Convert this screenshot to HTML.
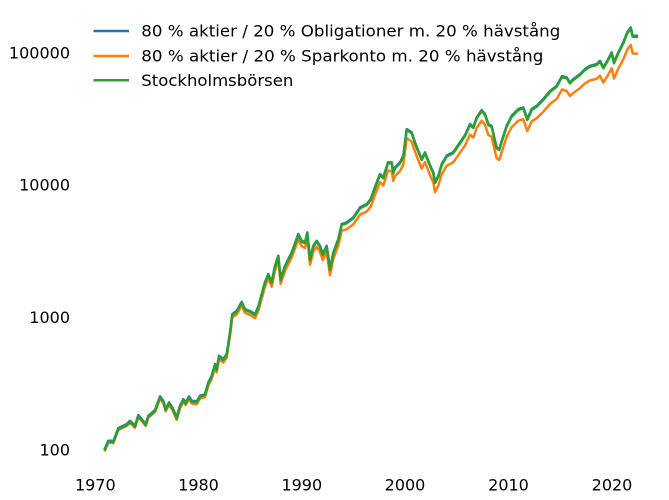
<!DOCTYPE html>
<html>
<head>
<meta charset="utf-8">
<style>
html,body{margin:0;padding:0;background:#fff;}
svg{display:block;}
text{font-family:"DejaVu Sans","Liberation Sans",sans-serif;font-size:16px;fill:#000;}
</style>
</head>
<body>
<svg width="669" height="500" viewBox="0 0 669 500" xmlns="http://www.w3.org/2000/svg">
<rect width="669" height="500" fill="#fff"/>

<!-- y tick labels -->
<text x="70" y="58.3" text-anchor="end">100000</text>
<text x="70" y="190.7" text-anchor="end">10000</text>
<text x="70" y="323.2" text-anchor="end">1000</text>
<text x="70" y="455.5" text-anchor="end">100</text>

<!-- x tick labels -->
<text x="95.3" y="490.7" text-anchor="middle">1970</text>
<text x="198.5" y="490.7" text-anchor="middle">1980</text>
<text x="301.8" y="490.7" text-anchor="middle">1990</text>
<text x="405" y="490.7" text-anchor="middle">2000</text>
<text x="508.5" y="490.7" text-anchor="middle">2010</text>
<text x="612" y="490.7" text-anchor="middle">2020</text>

<g fill="none" stroke-width="2.5" stroke-linejoin="round" stroke-linecap="square">
<!-- blue -->
<polyline stroke="#1f77b4" transform="translate(0,-0.9)" points="105,449.3 108.3,441.7 111.7,441.7 113.3,442.3 118.3,429 126.7,425 130,421.7 135,426.7 138.3,416 141.7,420 145.7,425 148.3,416.7 155,411 160,397.3 163.3,401.7 165.7,410 169,403.3 172.3,408.3 176.7,418.3 180,406.7 183.3,400 185.7,403.3 189,397.3 191.7,401.7 196.7,402.3 200,396.7 205,395 208.3,383.3 211.7,376.7 215,365 216.7,370 219,356.7 223.3,360 226.7,355 230,333.3 232.3,315 236.7,311.7 241.7,302.7 245,310 250,312 255,315 258.5,307 261.7,295 265,283 268.3,275 271.7,283 275,266.7 278.3,256.7 280.7,280 285,266.7 291.7,253.3 298.3,235 301.7,241.7 305,243.3 307.3,233.3 310,260 313.3,246.7 316.7,241.7 320,246.7 322.7,255 326.7,246.7 330,270 333.3,253.3 338.3,240 341.7,225 346.7,223.3 353.3,218.3 360,208.3 366.7,205 370.7,200 376.7,183.3 380,175 383.3,178.3 388,163.3 391.7,163.3 393.3,173.3 395,168.3 400,163.3 403.3,156.7 406.7,130 411.7,133.3 415,143.3 418.3,151.7 421.7,160 425,153.3 428.3,161.7 431.7,170 433.3,173.3 435,183 438.3,176.7 441.7,165 446.7,156.5 453.3,153 460,143.3 465,136 470,125 473.3,128 476.7,118.3 481.7,111 485,115 488.3,125 491.7,127 495,141.7 496.7,148.3 499.3,150 501.7,142 506.7,126.5 511.7,116.7 518.3,110 523.3,108.3 527.3,120 531.7,110 536.7,106.7 543.3,100 550,92 556.7,86.7 562,77 566.7,78.3 570,83.3 573.3,80 580,75 585,70 590,66.7 596.7,65 600,61.7 603.3,68.3 608.3,60 611.7,53.3 614,63.3 618.3,53.3 623.3,43.3 627.3,33.3 630.7,28.3 632.7,36.7 636.7,36.7"/>
<!-- orange -->
<polyline stroke="#ff7f0e" points="105,450.3 108.3,442.7 111.7,442.7 113.3,443.3 118.3,430 126.7,426 130,422.7 135,427.7 138.3,417 141.7,421 145.7,426 148.3,417.7 155,412.1 160,398.5 163.3,403 165.7,411.3 169,404.7 172.3,409.7 176.7,419.8 180,408.3 183.3,401.7 185.7,405 189,399.1 191.7,403.5 196.7,404.2 200,398.7 205,397.1 208.3,385.5 211.7,378.9 215,367.3 216.7,372.3 219,359.1 223.3,362.5 226.7,357.5 230,335.9 232.3,317.6 236.7,314.4 241.7,305.5 245,312.9 250,315 255,318.2 258.5,310.3 261.7,298.4 265,286.5 268.3,278.5 271.7,286.7 275,270.5 278.3,260.6 280.7,283.9 285,270.8 291.7,257.6 298.3,239.5 301.7,246.3 305,248 307.3,238 310,264.8 313.3,251.6 316.7,246.7 320,251.8 322.7,260.2 326.7,252 330,275.4 333.3,258.8 338.3,245.6 341.7,230.7 346.7,229.2 353.3,224.4 360,214.7 366.7,211.6 370.7,206.8 376.7,190.3 380,182.1 383.3,185.5 388,170.7 391.7,170.9 393.3,180.9 395,176 400,171.2 403.3,164.7 406.7,138.1 411.7,141.6 415,151.7 418.3,160.2 421.7,168.6 425,162.1 428.3,170.6 431.7,179 433.3,182.3 435,192.1 438.3,185.8 441.7,174.2 446.7,165.7 453.3,162.3 460,152.7 465,145.5 470,134.6 473.3,137.6 476.7,128 481.7,120.7 485,124.8 488.3,134.8 491.7,136.9 495,151.6 496.7,158.3 499.3,160 501.7,152.1 506.7,136.8 511.7,127.2 518.3,120.7 523.3,119.2 527.3,131.1 531.7,121.3 536.7,118.2 543.3,111.7 550,104 556.7,99 562,89.5 566.7,91 570,96.1 573.3,92.9 580,88.2 585,83.4 590,80.3 596.7,78.9 600,75.7 603.3,82.6 608.3,74.7 611.7,68.3 614,78.5 618.3,68.8 623.3,59.3 627.3,49.6 630.7,44.9 632.7,53.5 636.7,53.7"/>
<!-- green -->
<polyline stroke="#2ca02c" points="105,449.3 108.3,441.7 111.7,441.7 113.3,442.3 118.3,429 126.7,425 130,421.7 135,426.7 138.3,416 141.7,420 145.7,425 148.3,416.7 155,411 160,397.3 163.3,401.7 165.7,410 169,403.3 172.3,408.3 176.7,418.3 180,406.7 183.3,400 185.7,403.3 189,397.3 191.7,401.7 196.7,402.3 200,396.7 205,395 208.3,383.3 211.7,376.7 215,365 216.7,370 219,356.7 223.3,360 226.7,355 230,333.3 232.3,315 236.7,311.7 241.7,302.7 245,310 250,312 255,315 258.5,307 261.7,295 265,283 268.3,275 271.7,283 275,266.7 278.3,256.7 280.7,280 285,266.7 291.7,253.3 298.3,235 301.7,241.7 305,243.3 307.3,233.3 310,260 313.3,246.7 316.7,241.7 320,246.7 322.7,255 326.7,246.7 330,270 333.3,253.3 338.3,240 341.7,225 346.7,223.3 353.3,218.3 360,208.3 366.7,205 370.7,200 376.7,183.3 380,175 383.3,178.3 388,163.3 391.7,163.3 393.3,173.3 395,168.3 400,163.3 403.3,156.7 406.7,130 411.7,133.3 415,143.3 418.3,151.7 421.7,160 425,153.3 428.3,161.7 431.7,170 433.3,173.3 435,183 438.3,176.7 441.7,165 446.7,156.5 453.3,153 460,143.3 465,136 470,125 473.3,128 476.7,118.3 481.7,111 485,115 488.3,125 491.7,127 495,141.7 496.7,148.3 499.3,150 501.7,142 506.7,126.5 511.7,116.7 518.3,110 523.3,108.3 527.3,120 531.7,110 536.7,106.7 543.3,100 550,92 556.7,86.7 562,77 566.7,78.3 570,83.3 573.3,80 580,75 585,70 590,66.7 596.7,65 600,61.7 603.3,68.3 608.3,60 611.7,53.3 614,63.3 618.3,53.3 623.3,43.3 627.3,33.3 630.7,28.3 632.7,36.7 636.7,36.7"/>
</g>

<!-- legend -->
<g stroke-width="2.5">
<line x1="93.5" y1="31" x2="129" y2="31" stroke="#1f77b4"/>
<line x1="93.5" y1="56" x2="129" y2="56" stroke="#ff7f0e"/>
<line x1="93.5" y1="80.3" x2="129" y2="80.3" stroke="#2ca02c"/>
</g>
<text x="141.3" y="36.7" textLength="419" lengthAdjust="spacingAndGlyphs">80 % aktier / 20 % Obligationer m. 20 % hävstång</text>
<text x="141.3" y="61.7" textLength="402" lengthAdjust="spacingAndGlyphs">80 % aktier / 20 % Sparkonto m. 20 % hävstång</text>
<text x="141.3" y="86" textLength="152" lengthAdjust="spacingAndGlyphs">Stockholmsbörsen</text>
</svg>
</body>
</html>
